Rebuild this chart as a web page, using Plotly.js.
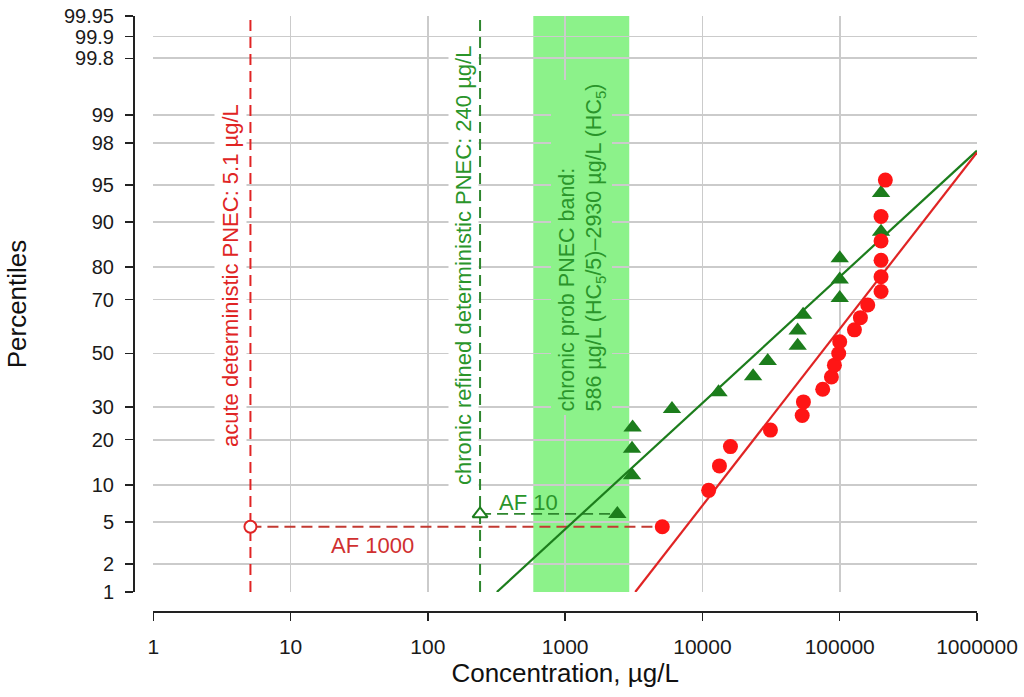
<!DOCTYPE html>
<html>
<head>
<meta charset="utf-8">
<script src="https://cdn.plot.ly/plotly-3.0.1.min.js"></script>
<style>html,body{margin:0;padding:0;background:#fff;}#chart{width:1024px;height:697px;}</style>
</head>
<body>
<div id="chart"></div>
<script>
// ---- data ----
const percentTicks = [1, 2, 5, 10, 20, 30, 50, 70, 80, 90, 95, 98, 99, 99.8, 99.9, 99.95];
const percentLabels = ['1', '2', '5', '10', '20', '30', '50', '70', '80', '90', '95', '98', '99', '99.8', '99.9', '99.95'];
const concTicks = [1, 10, 100, 1000, 10000, 100000, 1000000];
const concLabels = ['1', '10', '100', '1000', '10000', '100000', '1000000'];

const chronicConc = [2400, 3070, 3070, 3100, 6000, 13100, 23400, 29900, 49400, 49400, 54100, 100000, 100000, 100000, 200000, 200000];
const chronicPct = [5.88, 11.76, 17.65, 23.53, 29.41, 35.29, 41.18, 47.06, 52.94, 58.82, 64.71, 70.59, 76.47, 82.35, 88.24, 94.12];

const acuteConc = [5100, 11100, 13300, 16000, 31300, 53300, 54400, 75200, 87000, 91500, 98300, 100000, 128000, 141500, 160000, 200000, 200000, 200000, 200000, 200000, 215000];
const acutePct = [4.55, 9.09, 13.64, 18.18, 22.73, 27.27, 31.82, 36.36, 40.91, 45.45, 50.0, 54.55, 59.09, 63.64, 68.18, 72.73, 77.27, 81.82, 86.36, 90.91, 95.45];

const chronicFitConc = [318, 1000000];
const chronicFitPct = [1, 97.6];
const acuteFitConc = [3240, 1000000];
const acuteFitPct = [1, 97.5];

const acutePNEC = 5.1;       // µg/L
const acuteHC5 = 5100;       // µg/L
const acuteHC5Pct = 4.55;
const chronicPNEC = 240;     // µg/L
const chronicHC5 = 2400;     // µg/L
const chronicHC5Pct = 5.88;
const bandLow = 586;
const bandHigh = 2930;

// ---- probability (probit) scale ----
function normInv(p) {
  const a = [-3.969683028665376e+01, 2.209460984245205e+02, -2.759285104469687e+02, 1.383577518672690e+02, -3.066479806614716e+01, 2.506628277459239e+00];
  const b = [-5.447609879822406e+01, 1.615858368580409e+02, -1.556989798598866e+02, 6.680131188771972e+01, -1.328068155288572e+01];
  const c = [-7.784894002430293e-03, -3.223964580411365e-01, -2.400758277161838e+00, -2.549732539343734e+00, 4.374664141464968e+00, 2.938163982698783e+00];
  const d = [7.784695709041462e-03, 3.224671290700398e-01, 2.445134137142996e+00, 3.754408661907416e+00];
  const pl = 0.02425, ph = 1 - pl;
  let q, r;
  if (p < pl) {
    q = Math.sqrt(-2 * Math.log(p));
    return (((((c[0]*q+c[1])*q+c[2])*q+c[3])*q+c[4])*q+c[5]) / ((((d[0]*q+d[1])*q+d[2])*q+d[3])*q+1);
  } else if (p <= ph) {
    q = p - 0.5; r = q*q;
    return (((((a[0]*r+a[1])*r+a[2])*r+a[3])*r+a[4])*r+a[5])*q / (((((b[0]*r+b[1])*r+b[2])*r+b[3])*r+b[4])*r+1);
  } else {
    q = Math.sqrt(-2 * Math.log(1 - p));
    return -(((((c[0]*q+c[1])*q+c[2])*q+c[3])*q+c[4])*q+c[5]) / ((((d[0]*q+d[1])*q+d[2])*q+d[3])*q+1);
  }
}
const Z = pct => normInv(pct / 100);
const zArr = arr => arr.map(Z);

const yMin = Z(percentTicks[0]);
const yMax = Z(percentTicks[percentTicks.length - 1]);

// pixel helpers for paper positions
const ML = 133, MR = 47, MT = 16, MB = 86, W = 1024, H = 697;
const PW = W - ML - MR, PH = H - MT - MB;
const px = x => (x - ML) / PW;
const py = y => (H - MB - y) / PH;

const FONT = 'Liberation Sans, Arial, Helvetica, sans-serif';
const RED = '#e02424';
const RED_DOT = '#ff1515';
const RED_DASH = '#c23a32';
const GREEN = '#1c7d1c';
const GREEN_TXT = '#2a952a';
const GREEN_DASH = '#2e862e';
const BAND = '#8cf28a';

const traces = [
  // dummy for outer axes
  {x: [10], y: [0], xaxis: 'x2', yaxis: 'y2', mode: 'markers', marker: {opacity: 0}, hoverinfo: 'skip', showlegend: false},
  // vertical PNEC lines
  {x: [acutePNEC, acutePNEC], y: [yMin, yMax], mode: 'lines', line: {color: RED, width: 2, dash: '11px,6px'}, hoverinfo: 'skip'},
  {x: [chronicPNEC, chronicPNEC], y: [yMin, yMax], mode: 'lines', line: {color: GREEN_DASH, width: 2, dash: '11px,6px'}, hoverinfo: 'skip'},
  // AF lines
  {x: [acutePNEC, acuteHC5], y: [Z(acuteHC5Pct), Z(acuteHC5Pct)], mode: 'lines', line: {color: RED_DASH, width: 1.8, dash: '11px,6px'}, hoverinfo: 'skip'},
  {x: [chronicPNEC, chronicHC5], y: [Z(chronicHC5Pct), Z(chronicHC5Pct)], mode: 'lines', line: {color: GREEN_DASH, width: 1.8, dash: '11px,6px'}, hoverinfo: 'skip'},
  // fitted lines
  {x: chronicFitConc, y: zArr(chronicFitPct), mode: 'lines', line: {color: GREEN, width: 2.2}, hoverinfo: 'skip'},
  {x: acuteFitConc, y: zArr(acuteFitPct), mode: 'lines', line: {color: RED, width: 2.2}, hoverinfo: 'skip'},
  // data points
  {x: chronicConc, y: zArr(chronicPct), mode: 'markers', name: 'chronic', marker: {symbol: 'triangle-up', size: 16, color: GREEN}},
  {x: acuteConc, y: zArr(acutePct), mode: 'markers', name: 'acute', marker: {symbol: 'circle', size: 15, color: RED_DOT}},
  // PNEC markers
  {x: [acutePNEC], y: [Z(acuteHC5Pct)], mode: 'markers', marker: {symbol: 'circle', size: 12, color: '#fff', line: {color: RED, width: 2}}},
  {x: [chronicPNEC], y: [Z(chronicHC5Pct)], mode: 'markers', marker: {symbol: 'triangle-up', size: 13, color: '#fff', line: {color: GREEN, width: 2}}}
];

const gridColor = '#cbcbcb';
const layout = {
  width: W, height: H,
  margin: {l: ML, r: MR, t: MT, b: MB},
  paper_bgcolor: '#fff', plot_bgcolor: '#fff',
  showlegend: false,
  font: {family: FONT, color: '#1a1a1a'},
  xaxis: {type: 'log', range: [0, 6], domain: [px(153.3), 1], tickvals: concTicks, showticklabels: false, ticks: '',
          showgrid: true, gridcolor: gridColor, gridwidth: 1.6, zeroline: false, showline: false},
  yaxis: {type: 'linear', range: [yMin, yMax], domain: [py(592), 1], tickvals: zArr(percentTicks), showticklabels: false, ticks: '',
          showgrid: true, gridcolor: gridColor, gridwidth: 1.6, zeroline: false, showline: false},
  xaxis2: {type: 'log', overlaying: 'x', anchor: 'free', position: 0, range: [0, 6], tickvals: concTicks, ticktext: concLabels,
           ticks: 'outside', ticklen: 8, tickwidth: 1.5, tickcolor: '#222', showline: true, linecolor: '#222', linewidth: 1.5,
           showgrid: false, zeroline: false, tickfont: {size: 21, color: '#1a1a1a'}, ticklabelstandoff: 8,
           title: {text: 'Concentration, µg/L', font: {size: 26, color: '#111'}, standoff: 2}},
  yaxis2: {type: 'linear', overlaying: 'y', anchor: 'free', position: 0, side: 'left', range: [yMin, yMax], tickvals: zArr(percentTicks), ticktext: percentLabels,
           ticks: 'outside', ticklen: 8, tickwidth: 1.5, tickcolor: '#222', showline: true, linecolor: '#222', linewidth: 1.5,
           showgrid: false, zeroline: false, tickfont: {size: 20, color: '#1a1a1a'}, ticklabelstandoff: 7,
           title: {text: 'Percentiles', font: {size: 26, color: '#111'}, standoff: 28}},
  shapes: [
    {type: 'rect', xref: 'x', yref: 'y domain', x0: bandLow, x1: bandHigh, y0: 0, y1: 1,
     fillcolor: BAND, line: {width: 0}, layer: 'below'}
  ],
  annotations: [
    {xref: 'paper', yref: 'paper', x: px(230), y: py(276), xanchor: 'center', yanchor: 'middle', text: 'acute deterministic PNEC: 5.1 µg/L', textangle: -90,
     showarrow: false, font: {size: 22, color: RED}, bgcolor: '#fff', borderpad: 3},
    {xref: 'paper', yref: 'paper', x: px(463), y: py(266), xanchor: 'center', yanchor: 'middle', text: 'chronic refined deterministic PNEC: 240 µg/L', textangle: -90,
     showarrow: false, font: {size: 22, color: GREEN_TXT}, bgcolor: '#fff', borderpad: 2},
    {xref: 'paper', yref: 'paper', x: px(581.5), y: py(248), xanchor: 'center', yanchor: 'middle', text: 'chronic prob PNEC band:<br>586 µg/L (HC<sub>5</sub>/5)–2930 µg/L (HC<sub>5</sub>)',
     textangle: -90, align: 'left', showarrow: false, font: {size: 21.5, color: GREEN_TXT}, bgcolor: BAND, borderpad: 3},
    {xref: 'paper', yref: 'paper', x: px(372), y: py(545), xanchor: 'center', yanchor: 'middle', text: 'AF 1000', showarrow: false, font: {size: 22, color: '#d03030'}},
    {xref: 'paper', yref: 'paper', x: px(528), y: py(502), xanchor: 'center', yanchor: 'middle', text: 'AF 10', showarrow: false, font: {size: 22, color: GREEN_TXT}}
  ]
};

Plotly.newPlot('chart', traces, layout, {staticPlot: true, displayModeBar: false});
</script>
</body>
</html>
